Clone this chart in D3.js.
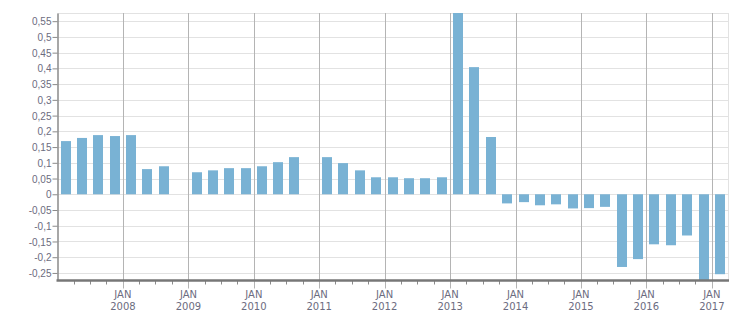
<!DOCTYPE html>
<html>
<head>
<meta charset="UTF-8"/>
<style>
  body { margin: 0; background: #fff; }
  svg { display: block; font-family: "DejaVu Sans", sans-serif; }
  .lbl { font-size: 10px; fill: #6c6c80; }
</style>
</head>
<body>
<svg width="751" height="313"></svg>
<script src="https://cdn.jsdelivr.net/npm/d3@7"></script>
<script>
// quarterly values, Q1 2007 .. Q1 2017 (null = no value)
const quarters = [
  "2007-01","2007-04","2007-07","2007-10",
  "2008-01","2008-04","2008-07","2008-10",
  "2009-01","2009-04","2009-07","2009-10",
  "2010-01","2010-04","2010-07","2010-10",
  "2011-01","2011-04","2011-07","2011-10",
  "2012-01","2012-04","2012-07","2012-10",
  "2013-01","2013-04","2013-07","2013-10",
  "2014-01","2014-04","2014-07","2014-10",
  "2015-01","2015-04","2015-07","2015-10",
  "2016-01","2016-04","2016-07","2016-10",
  "2017-01"
];
const values = [
  0.169, 0.179, 0.188, 0.185,
  0.188, 0.080, 0.089, null,
  0.070, 0.076, 0.083, 0.083,
  0.089, 0.102, 0.118, null,
  0.118, 0.099, 0.076, 0.054,
  0.054, 0.051, 0.051, 0.054,
  0.60, 0.404, 0.182, -0.029,
  -0.025, -0.035, -0.032, -0.045,
  -0.044, -0.040, -0.231, -0.206,
  -0.159, -0.162, -0.131, -0.29,
  -0.254
];
const yTicks = [0.55,0.5,0.45,0.4,0.35,0.3,0.25,0.2,0.15,0.1,0.05,0,-0.05,-0.1,-0.15,-0.2,-0.25];
const monthLabel = "JAN";

const parse = d3.timeParse("%Y-%m");
const data = quarters.map((q, i) => ({ start: parse(q), value: values[i] }));

const svg = d3.select("svg");
const pLeft = 57.5, pRight = 728, pTop = 13, pBottom = 280.5;

const x = d3.scaleTime()
  .domain([new Date(2007, 0, 1), new Date(2017, 3, 1)])
  .range([pLeft, pRight]);
const y = d3.scaleLinear()
  .domain([-0.274, 0.576])
  .range([pBottom, pTop]);

const loc = d3.formatLocale({ decimal: ",", thousands: ".", grouping: [3], currency: ["", ""], minus: "-" });
const fmt = loc.format("~r");

svg.append("clipPath").attr("id", "plot")
  .append("rect").attr("x", pLeft).attr("y", pTop).attr("width", pRight - pLeft).attr("height", pBottom - pTop);

// horizontal grid
svg.append("g").selectAll("line").data(yTicks).join("line")
  .attr("x1", pLeft).attr("x2", pRight)
  .attr("y1", d => Math.round(y(d)) + 0.5).attr("y2", d => Math.round(y(d)) + 0.5)
  .attr("stroke", "#e2e2e2");
svg.append("line").attr("x1", pLeft).attr("x2", pRight).attr("y1", pTop + 0.5).attr("y2", pTop + 0.5).attr("stroke", "#e2e2e2");
svg.append("line").attr("x1", pRight + 0.5).attr("x2", pRight + 0.5).attr("y1", pTop).attr("y2", pBottom).attr("stroke", "#e2e2e2");

// vertical year grid
const years = d3.timeYear.range(new Date(2008, 0, 1), new Date(2017, 3, 1));
svg.append("g").selectAll("line").data(years).join("line")
  .attr("x1", d => Math.round(x(d)) + 0.5).attr("x2", d => Math.round(x(d)) + 0.5)
  .attr("y1", pTop).attr("y2", pBottom + 8)
  .attr("stroke", "#b4b4b4");

// bars
const bw = 10;
svg.append("g").attr("clip-path", "url(#plot)")
  .selectAll("rect").data(data.filter(d => d.value !== null)).join("rect")
  .attr("x", d => Math.round((x(d.start) + x(d3.timeMonth.offset(d.start, 3))) / 2 - bw / 2))
  .attr("width", bw)
  .attr("y", d => y(Math.max(0, d.value)))
  .attr("height", d => Math.abs(y(d.value) - y(0)))
  .attr("fill", "#79b2d4");

// y axis
const yAxis = svg.append("g").attr("transform", `translate(${pLeft},0)`)
  .call(d3.axisLeft(y).tickValues(yTicks).tickSize(5).tickSizeOuter(0).tickPadding(1).tickFormat(fmt));
yAxis.select(".domain").attr("stroke", "#8a8a8a").attr("stroke-width", 1.5);
yAxis.selectAll(".tick line").attr("stroke", "#8a8a8a");
yAxis.selectAll(".tick text").attr("class", "lbl").attr("dy", "0.36em");

// x axis: minor quarter ticks
const minor = d3.timeMonth.every(3).range(new Date(2007, 3, 1), new Date(2017, 3, 1))
  .filter(d => d.getMonth() !== 0);
svg.append("g").selectAll("line").data(minor).join("line")
  .attr("x1", d => Math.round(x(d)) + 0.5).attr("x2", d => Math.round(x(d)) + 0.5)
  .attr("y1", pBottom).attr("y2", pBottom + 4)
  .attr("stroke", "#8a8a8a");
svg.append("line").attr("x1", pLeft - 1).attr("x2", pRight + 1)
  .attr("y1", pBottom).attr("y2", pBottom)
  .attr("stroke", "#777").attr("stroke-width", 2.5);

const xl = svg.append("g").selectAll("text").data(years).join("text")
  .attr("class", "lbl").attr("text-anchor", "middle")
  .attr("x", d => x(d)).attr("y", 298);
xl.append("tspan").attr("x", d => x(d)).text(monthLabel);
xl.append("tspan").attr("x", d => x(d)).attr("dy", 12.3).text(d => d.getFullYear());
</script>
</body>
</html>
